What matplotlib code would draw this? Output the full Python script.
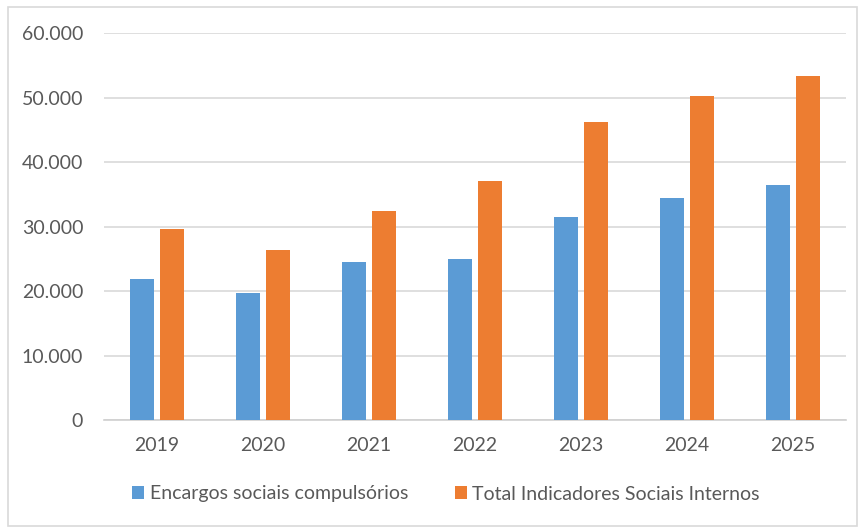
import matplotlib
matplotlib.use("Agg")
import numpy as np
from matplotlib import pyplot as plt
from matplotlib.patches import Rectangle
from matplotlib.ticker import FuncFormatter

anos = ['2019', '2020', '2021', '2022', '2023', '2024', '2025']
encargos = [21900, 19700, 24450, 25050, 31500, 34400, 36400]
total_sociais = [29600, 26300, 32400, 37070, 46300, 50200, 53400]
nomes = ['Encargos sociais compulsórios', 'Total Indicadores Sociais Internos']

azul = '#5b9bd5'
laranja = '#ed7d31'
cinza_txt = '#595959'

plt.rcParams['font.family'] = ['Lato', 'DejaVu Sans']

fig = plt.figure(figsize=(8.59, 5.27), dpi=100)
ax = fig.add_axes([104/859, 1-420/527, 742/859, (420-33.3)/527])

x = np.arange(len(anos))
w = 0.226
ax.bar(x - 0.142, encargos, w, color=azul, label=nomes[0], zorder=3)
ax.bar(x + 0.142, total_sociais, w, color=laranja, label=nomes[1], zorder=3)

ax.set_xlim(-0.5, len(anos) - 0.5)
ax.set_ylim(0, 60000)
ax.set_yticks(range(0, 60001, 10000))
ax.yaxis.set_major_formatter(FuncFormatter(lambda v, p: '{:,.0f}'.format(v).replace(',', '.')))
ax.set_xticks(x)
ax.set_xticklabels(anos)

ax.grid(axis='y', color='#d9d9d9', linewidth=1.2, zorder=0)
for s in ['left', 'right', 'top']:
    ax.spines[s].set_visible(False)
ax.spines['bottom'].set_color('#d0d0d0')
ax.spines['bottom'].set_linewidth(1.2)
ax.tick_params(axis='both', length=0, labelsize=14, colors=cinza_txt)
ax.tick_params(axis='y', pad=15)
ax.tick_params(axis='x', pad=12)

fig.legend(loc='center', bbox_to_anchor=(0.519, 1-494/527), ncol=2, frameon=False,
           fontsize=14, labelcolor=cinza_txt, handlelength=0.62, handleheight=0.62,
           handletextpad=0.3, columnspacing=2.4)

fig.patches.append(Rectangle((8/859, 0.002), 849/859, 1-7/527-0.002, transform=fig.transFigure,
                             fill=False, edgecolor='#d9d9d9', linewidth=1.2))

fig.savefig('out.png', dpi=100)
